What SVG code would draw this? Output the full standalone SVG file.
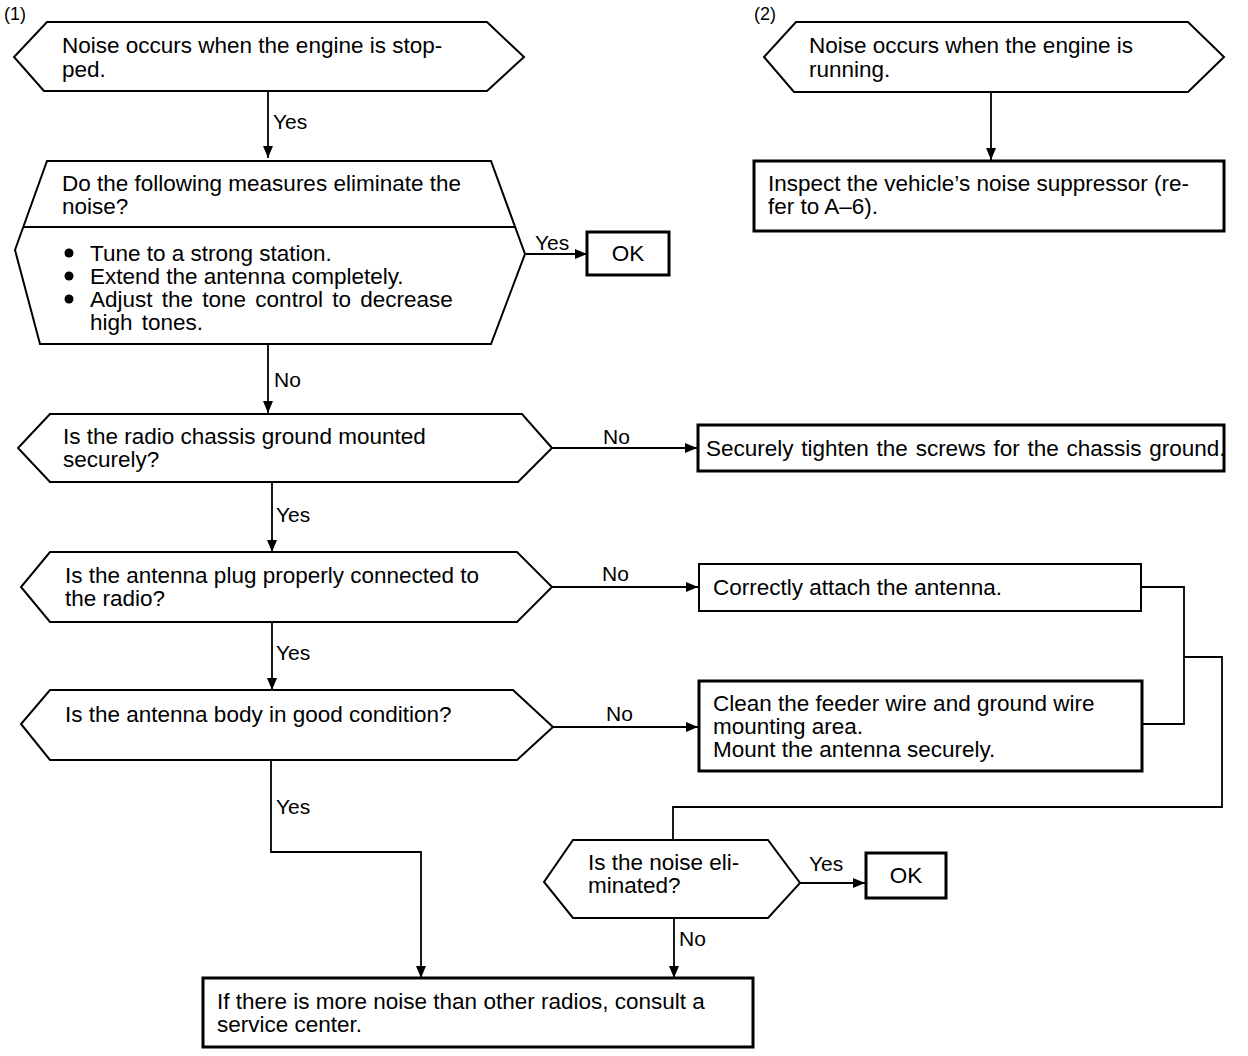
<svg xmlns="http://www.w3.org/2000/svg" width="1248" height="1056" viewBox="0 0 1248 1056">
<style>
text{font-family:"Liberation Sans",Arial,sans-serif;font-size:22.5px;fill:#000}
.lbl{font-size:21px}
.hex{fill:#fff;stroke:#000;stroke-width:2}
.box{fill:#fff;stroke:#000;stroke-width:3}
.con{fill:none;stroke:#000;stroke-width:1.8}
</style>
<defs>
<marker id="ah" markerUnits="userSpaceOnUse" markerWidth="12" markerHeight="10" refX="12" refY="5" orient="auto">
<path d="M0,0 L12,5 L0,10 z" fill="#000"/>
</marker>
</defs>
<rect width="1248" height="1056" fill="#fff"/>
<text x="4" y="20" style="font-size:18px">(1)</text>
<text x="754" y="20" style="font-size:18px">(2)</text>

<g id="connectors">
<path class="con" d="M268,91 V158" marker-end="url(#ah)"/>
<text class="lbl" x="273" y="129">Yes</text>
<path class="con" d="M526,254 H587" marker-end="url(#ah)"/>
<text class="lbl" x="535" y="250">Yes</text>
<path class="con" d="M268,344 V413" marker-end="url(#ah)"/>
<text class="lbl" x="274" y="387">No</text>
<path class="con" d="M552,448 H697" marker-end="url(#ah)"/>
<text class="lbl" x="603" y="444">No</text>
<path class="con" d="M272,482 V552" marker-end="url(#ah)"/>
<text class="lbl" x="276" y="522">Yes</text>
<path class="con" d="M552,587 H698" marker-end="url(#ah)"/>
<text class="lbl" x="602" y="581">No</text>
<path class="con" d="M272,622 V690" marker-end="url(#ah)"/>
<text class="lbl" x="276" y="660">Yes</text>
<path class="con" d="M553,727 H698" marker-end="url(#ah)"/>
<text class="lbl" x="606" y="721">No</text>
<path class="con" d="M271,760 V852 H421 V978" marker-end="url(#ah)"/>
<text class="lbl" x="276" y="814">Yes</text>
<path class="con" d="M1141,587 H1184 V724 H1142"/>
<path class="con" d="M1184,657 H1222 V807 H673 V840"/>
<path class="con" d="M800,883 H865" marker-end="url(#ah)"/>
<text class="lbl" x="809" y="871">Yes</text>
<path class="con" d="M674,918 V978" marker-end="url(#ah)"/>
<text class="lbl" x="679" y="946">No</text>
<path class="con" d="M991,92 V160" marker-end="url(#ah)"/>
</g>

<g id="n1">
<polygon class="hex" points="47,22 487,22 524,57 487,91 44,91 14,57"/>
<text x="62" y="53">Noise occurs when the engine is stop-</text>
<text x="62" y="77">ped.</text>
</g>

<g id="n2">
<polygon class="hex" points="47,161 491,161 525,254 491,344 40,344 15,250"/>
<line class="hex" x1="23" y1="227" x2="515" y2="227"/>
<text x="62" y="191">Do the following measures eliminate the</text>
<text x="62" y="214">noise?</text>
<circle cx="69" cy="253" r="4.5"/>
<circle cx="69" cy="276" r="4.5"/>
<circle cx="69" cy="299" r="4.5"/>
<text x="90" y="261">Tune to a strong station.</text>
<text x="90" y="284">Extend the antenna completely.</text>
<text x="90" y="307" word-spacing="3">Adjust the tone control to decrease</text>
<text x="90" y="330" word-spacing="3">high tones.</text>
</g>

<g id="ok1">
<rect class="box" x="587" y="232" width="82" height="43"/>
<text x="628" y="261" text-anchor="middle">OK</text>
</g>

<g id="n3">
<polygon class="hex" points="50,414 522,414 552,448 518,482 50,482 18,448"/>
<text x="63" y="444">Is the radio chassis ground mounted</text>
<text x="63" y="467">securely?</text>
</g>

<g id="n4">
<polygon class="hex" points="50,552 517,552 552,587 517,622 50,622 21,587"/>
<text x="65" y="583">Is the antenna plug properly connected to</text>
<text x="65" y="606">the radio?</text>
</g>

<g id="n5">
<polygon class="hex" points="50,690 513,690 553,727 517,760 50,760 21,724"/>
<text x="65" y="722">Is the antenna body in good condition?</text>
</g>

<g id="r1">
<rect class="box" x="698" y="425" width="526" height="46"/>
<text x="706" y="456" word-spacing="1.5">Securely tighten the screws for the chassis ground.</text>
</g>

<g id="r2">
<rect class="box" x="699" y="564" width="442" height="47" style="stroke-width:2"/>
<text x="713" y="595">Correctly attach the antenna.</text>
</g>

<g id="r3">
<rect class="box" x="699" y="681" width="443" height="90"/>
<text x="713" y="711">Clean the feeder wire and ground wire</text>
<text x="713" y="734">mounting area.</text>
<text x="713" y="757">Mount the antenna securely.</text>
</g>

<g id="n6">
<polygon class="hex" points="573,840 768,840 800,883 768,918 573,918 544,882"/>
<text x="588" y="870">Is the noise eli-</text>
<text x="588" y="893">minated?</text>
</g>

<g id="ok2">
<rect class="box" x="866" y="853" width="80" height="45"/>
<text x="906" y="883" text-anchor="middle">OK</text>
</g>

<g id="r4">
<rect class="box" x="203" y="978" width="550" height="69"/>
<text x="217" y="1009">If there is more noise than other radios, consult a</text>
<text x="217" y="1032">service center.</text>
</g>

<g id="m1">
<polygon class="hex" points="796,22 1188,22 1224,57 1188,92 794,92 764,57"/>
<text x="809" y="53">Noise occurs when the engine is</text>
<text x="809" y="77">running.</text>
</g>

<g id="m2">
<rect class="box" x="754" y="161" width="470" height="70"/>
<text x="768" y="191">Inspect the vehicle’s noise suppressor (re-</text>
<text x="768" y="214">fer to A–6).</text>
</g>
</svg>
